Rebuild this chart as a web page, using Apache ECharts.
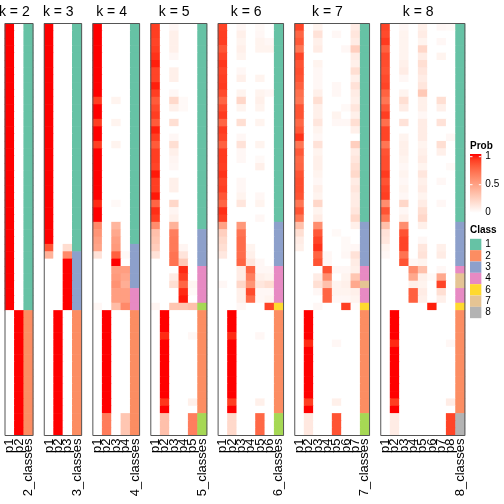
<!DOCTYPE html>
<html><head><meta charset="utf-8">
<script src="https://cdn.jsdelivr.net/npm/echarts@6/dist/echarts.min.js"></script>
<style>html,body{margin:0;padding:0;background:#fff}#c{width:504px;height:504px}</style>
</head><body><div id="c"></div>
<script>
// ---------------- data ----------------
const kValues = [2,3,4,5,6,7,8];
const nRows = 56;

const prob2 = [
[1,0],[1,0],[1,0],[1,0],[1,0],[1,0],[1,0],[1,0],[1,0],[1,0],
[1,0],[1,0],[1,0],[1,0],[1,0],[1,0],[1,0],[1,0],[1,0],[1,0],
[1,0],[1,0],[1,0],[1,0],[1,0],[1,0],[1,0],[1,0],[1,0],[1,0],
[1,0],[1,0],[1,0],[1,0],[1,0],[1,0],[1,0],[1,0],[1,0],
[0,1],[0,1],[0,1],[0,1],[0,1],[0,1],[0,1],[0,1],[0,1],[0,1],
[0,1],[0,1],[0,1],[0,1],[0,1],[0,1],[0,1]
];
const class2 = [1,1,1,1,1,1,1,1,1,1,1,1,1,1,1,1,1,1,1,1,1,1,1,1,1,1,1,1,1,1,1,1,1,1,1,1,1,1,1,
2,2,2,2,2,2,2,2,2,2,2,2,2,2,2,2,2];

const prob3 = [
[1,0,0],[1,0,0],[1,0,0],[1,0,0],[1,0,0],[1,0,0],[1,0,0],[1,0,0],[1,0,0],[1,0,0],
[1,0,0],[1,0,0],[1,0,0],[1,0,0],[1,0,0],[1,0,0],[1,0,0],[1,0,0],[1,0,0],[1,0,0],
[1,0,0],[1,0,0],[1,0,0],[1,0,0],[1,0,0],[1,0,0],[1,0,0],[1,0,0],[1,0,0],[1,0,0],
[0.82,0,0.18],[0.4,0,0.6],
[0,0,1],[0,0,1],[0,0,1],[0,0,1],[0,0,1],[0,0,1],[0,0,1],
[0,1,0],[0,1,0],[0,1,0],[0,1,0],[0,1,0],[0,1,0],[0,1,0],[0,1,0],[0,1,0],[0,1,0],
[0,1,0],[0,1,0],[0,1,0],[0,1,0],[0,1,0],[0,1,0],[0,1,0]
];
const class3 = [1,1,1,1,1,1,1,1,1,1,1,1,1,1,1,1,1,1,1,1,1,1,1,1,1,1,1,1,1,1,1,
3,3,3,3,3,3,3,3,
2,2,2,2,2,2,2,2,2,2,2,2,2,2,2,2,2];

const prob4 = [
[1,0,0,0],[1,0,0,0],[1,0,0,0],[1,0,0,0],[1,0,0,0],[1,0,0,0],[1,0,0,0],[1,0,0,0],[1,0,0,0],[1,0,0,0],
[0.9,0,0.06,0],[1,0,0,0],[1,0,0,0],[0.9,0,0.06,0],[1,0,0,0],[1,0,0,0],[0.9,0,0.06,0],
[1,0,0,0],[1,0,0,0],[1,0,0,0],[1,0,0,0],[1,0,0,0],[1,0,0,0],[1,0,0,0],
[0.95,0,0.03,0],[1,0,0,0],[1,0,0,0],
[0.6,0,0.38,0],[0.55,0,0.45,0],[0.5,0,0.5,0],[0.47,0,0.52,0],[0.15,0,0.78,0.03],
[0,0,1,0],[0,0,0.5,0.5],[0,0,0.52,0.46],[0,0,0.56,0.42],[0,0,0.5,0.5],[0,0,0.5,0.5],[0.04,0,0.35,0.6],
[0,1,0,0],[0,1,0,0],[0,1,0,0],[0,1,0,0],[0,1,0,0],[0,1,0,0],[0,1,0,0],
[0,1,0,0],[0,1,0,0],[0,1,0,0],[0,1,0,0],[0,1,0,0],[0,1,0,0],[0,1,0,0],
[0,0.66,0,0.3],[0,0.66,0,0.3],[0,0.66,0,0.3]
];
const class4 = [1,1,1,1,1,1,1,1,1,1,1,1,1,1,1,1,1,1,1,1,1,1,1,1,1,1,1,1,1,1,
3,3,3,3,3,3,4,4,4,
2,2,2,2,2,2,2,2,2,2,2,2,2,2,2,2,2];

const prob5 = [
[0.9,0,0.04,0,0],[0.9,0,0.08,0,0],[0.88,0,0.08,0,0],[0.9,0,0.08,0,0],[0.93,0,0.04,0,0],
[0.97,0,0,0,0],[0.88,0,0.08,0,0],[0.88,0,0.08,0,0],[0.97,0,0,0,0],[0.9,0,0.04,0,0],
[0.8,0,0.2,0.03,0],[0.86,0,0.08,0.03,0],[0.9,0,0,0,0],[0.8,0,0.17,0,0],[0.97,0,0,0,0],
[0.9,0,0.04,0,0],[0.8,0,0.17,0,0],[0.9,0,0.08,0,0],[0.9,0,0.05,0,0],[0.88,0,0.04,0,0],
[0.98,0,0,0,0],[0.9,0,0.08,0,0],[0.9,0,0.08,0,0],[0.98,0,0,0,0],[0.76,0,0.21,0,0],
[0.94,0,0.05,0,0],[0.9,0,0.08,0,0],[0.58,0,0.4,0,0],
[0.33,0,0.65,0,0],[0.3,0,0.67,0,0],[0.26,0,0.67,0.05,0],[0.15,0,0.7,0.14,0],[0,0,0.7,0.28,0],
[0,0,0,0.95,0],[0,0,0.1,0.9,0],[0,0,0.17,0.76,0.05],[0,0,0,0.95,0.03],[0,0,0,0.98,0],
[0.05,0,0.3,0.3,0.33],
[0,1,0,0,0],[0,1,0,0,0],[0,1,0,0,0],[0,0.95,0,0,0.04],[0,1,0,0,0],[0,1,0,0,0],[0,1,0,0,0],
[0,1,0,0,0],[0,1,0,0,0],[0,1,0,0,0],[0,1,0,0,0],[0,1,0,0,0],[0,0.92,0,0,0.08],[0,1,0,0,0],
[0,0.33,0,0,0.65],[0,0.33,0,0,0.65],[0,0.33,0,0,0.65]
];
const class5 = [1,1,1,1,1,1,1,1,1,1,1,1,1,1,1,1,1,1,1,1,1,1,1,1,1,1,1,1,
3,3,3,3,3,4,4,4,4,4,5,
2,2,2,2,2,2,2,2,2,2,2,2,2,2,5,5,5];

const prob6 = [
[0.88,0,0.04,0,0.03,0],[0.9,0,0.08,0,0.04,0],[0.9,0,0.06,0,0.06,0.04],[0.82,0,0.08,0,0.06,0.06],
[0.88,0,0.06,0,0,0],[0.92,0,0,0,0,0],[0.88,0,0.04,0,0,0],[0.9,0,0.08,0,0.06,0],
[0.91,0,0,0,0,0],[0.86,0,0.06,0,0.06,0.04],[0.76,0,0.21,0,0.08,0],[0.86,0,0.06,0,0.06,0],
[0.91,0,0,0,0,0],[0.76,0,0.17,0,0.06,0],[0.91,0,0,0,0,0],[0.88,0,0.04,0,0,0],
[0.78,0,0.15,0,0.06,0],[0.91,0,0.04,0,0,0],[0.91,0,0.04,0,0.03,0],[0.9,0,0,0,0.08,0],
[0.93,0,0,0,0,0],[0.88,0,0.04,0,0,0],[0.9,0,0.04,0,0,0],[0.82,0,0.06,0,0.04,0],
[0.76,0,0.13,0,0.06,0],[0.94,0,0,0,0,0],[0.9,0,0,0,0.04,0],
[0.48,0,0.53,0,0,0],[0.25,0,0.7,0,0,0],[0.2,0,0.73,0,0,0],[0.17,0,0.73,0.06,0,0],
[0.12,0,0.73,0.08,0,0],[0,0,0.76,0.13,0.04,0],
[0,0,0.1,0.76,0.04,0.04],[0,0,0.1,0.65,0.08,0.06],[0.04,0,0.21,0.55,0.13,0.17],
[0,0,0.08,0.86,0.04,0.04],[0,0,0.08,0.74,0.04,0.06],[0,0,0.04,0,0,0.88],
[0,1,0,0,0,0],[0,1,0,0,0,0],[0,1,0,0,0,0],[0,0.95,0,0,0.04,0],[0,1,0,0,0,0],[0,1,0,0,0,0],
[0,1,0,0,0,0],[0,1,0,0,0,0],[0,1,0,0,0,0],[0,1,0,0,0,0],[0,1,0,0,0,0],[0,1,0,0,0,0],
[0,0.9,0,0,0.08,0],[0,1,0,0,0,0],
[0,0.2,0,0,0.75,0],[0,0.2,0,0,0.75,0],[0,0.2,0,0,0.75,0]
];
const class6 = [1,1,1,1,1,1,1,1,1,1,1,1,1,1,1,1,1,1,1,1,1,1,1,1,1,1,1,
3,3,3,3,3,3,4,4,4,4,4,6,
2,2,2,2,2,2,2,2,2,2,2,2,2,2,5,5,5];

const prob7 = [
[0.88,0,0.06,0,0,0,0.1],[0.76,0,0.15,0,0.04,0,0.13],[0.81,0,0.08,0,0,0,0.1],[0.69,0,0.1,0,0,0.04,0.25],
[0.88,0,0,0,0,0,0.1],[0.83,0,0.06,0,0,0,0.08],[0.85,0,0.04,0,0,0,0.17],[0.83,0,0.04,0,0,0,0.08],
[0.78,0,0.04,0,0.04,0,0.15],[0.72,0,0.08,0,0.04,0,0.1],[0.69,0,0.17,0,0,0,0.08],[0.83,0,0.08,0,0,0.03,0.13],
[0.83,0,0.08,0,0.06,0,0.08],[0.75,0,0.13,0,0.04,0.04,0.17],[0.81,0,0.06,0,0,0,0.08],[0.93,0,0.04,0,0,0,0],
[0.69,0,0.15,0,0,0,0.25],[0.81,0,0.06,0,0,0,0.1],[0.75,0,0.08,0,0,0,0.13],[0.76,0,0.08,0,0,0,0.17],
[0.83,0,0.06,0,0,0,0.2],[0.85,0,0.04,0,0,0,0.1],[0.85,0,0.08,0,0,0,0.13],[0.83,0,0.06,0,0,0,0.1],
[0.69,0,0.21,0,0,0,0.1],[0.83,0,0.06,0,0,0,0.13],[0.69,0,0.1,0,0,0,0.2],
[0.33,0,0.58,0,0,0,0.08],[0.17,0,0.81,0,0.03,0,0],[0.1,0,0.88,0,0,0.03,0],[0.08,0,0.93,0,0,0.03,0.04],
[0,0,0.77,0.04,0,0.04,0.15],[0,0,0.83,0.04,0,0,0.1],
[0,0,0,0.83,0.04,0.04,0.08],[0,0,0.1,0.58,0,0.06,0.3],[0,0,0.17,0.33,0.06,0.08,0.45],
[0,0,0.04,0.76,0.06,0.06,0.08],[0,0,0,0.76,0.04,0.04,0.06],[0,0,0.04,0,0,0.9,0.02],
[0,1,0,0,0,0,0],[0,1,0,0,0,0,0],[0,1,0,0,0,0,0],[0,1,0,0,0,0,0],[0,0.95,0,0,0.04,0,0],
[0,1,0,0,0,0,0],[0,1,0,0,0,0,0],[0,1,0,0,0,0,0],[0,1,0,0,0,0,0],[0,1,0,0,0,0,0],[0,1,0,0,0,0,0],
[0,1,0,0,0,0,0],[0,0.9,0,0,0.08,0,0],[0,1,0,0,0,0,0],
[0,0.12,0,0,0.83,0,0],[0,0.12,0,0,0.83,0,0],[0,0.12,0,0,0.83,0,0]
];
const class7 = [1,1,1,1,1,1,1,1,1,1,1,1,1,1,1,1,1,1,1,1,1,1,1,1,1,1,1,
3,3,3,3,3,3,4,4,7,4,4,6,
2,2,2,2,2,2,2,2,2,2,2,2,2,2,5,5,5];

const prob8 = [
[0.88,0,0.04,0,0.08,0,0.04,0.03],[0.86,0,0.06,0,0.1,0,0,0],[0.91,0,0.06,0,0.06,0,0.04,0],
[0.78,0,0.06,0,0.21,0,0,0],[0.86,0,0.06,0,0.1,0,0.06,0],[0.85,0,0.08,0,0.17,0,0,0],
[0.83,0,0.1,0,0.13,0,0,0],[0.86,0,0.04,0,0.1,0,0,0],[0.88,0,0,0,0.13,0,0,0],
[0.77,0,0.06,0,0.28,0,0,0],[0.69,0,0.17,0,0.08,0,0.17,0],[0.81,0,0.1,0,0.08,0,0.08,0],
[0.9,0,0,0,0.04,0,0,0],[0.72,0,0.15,0,0.1,0,0.15,0],[0.88,0,0,0,0.1,0,0,0],
[0.88,0,0.06,0,0.1,0,0,0.04],[0.69,0,0.08,0,0.06,0,0.17,0],[0.83,0,0.08,0,0.08,0,0.08,0],
[0.85,0,0.06,0,0.1,0,0,0],[0.85,0,0.04,0,0.06,0,0,0.03],[0.91,0,0.06,0,0.13,0,0,0],
[0.83,0,0.04,0,0.08,0,0.04,0],[0.88,0,0.06,0,0.1,0,0,0],[0.9,0,0.04,0,0.06,0,0,0],
[0.58,0,0.21,0,0.1,0,0.04,0],[0.83,0,0.04,0,0.17,0,0,0],[0.69,0,0.08,0,0.21,0,0,0],
[0.33,0,0.58,0,0.08,0,0,0],[0.15,0,0.83,0,0,0,0,0],[0.13,0,0.88,0,0.04,0,0,0],
[0.06,0,0.88,0,0.13,0,0.08,0],[0.04,0,0.7,0,0.15,0,0.1,0],[0,0,0.83,0.04,0.06,0,0,0],
[0,0,0,0.58,0.33,0,0.04,0],[0,0,0,0.45,0.08,0.03,0.45,0],[0,0,0,0.08,0.06,0,0.88,0],
[0,0,0,0.78,0.1,0,0.17,0],[0,0,0,0.78,0.08,0,0.08,0],[0,0,0,0,0,0.97,0,0],
[0,1,0,0,0,0,0,0],[0,1,0,0,0,0,0,0],[0,1,0,0,0,0,0,0],[0,1,0,0,0,0,0,0],[0,0.95,0,0,0,0,0,0.04],
[0,1,0,0,0,0,0,0],[0,1,0,0,0,0,0,0],[0,1,0,0,0,0,0,0],[0,1,0,0,0,0,0,0],[0,1,0,0,0,0,0,0],
[0,1,0,0,0,0,0,0],[0,1,0,0,0,0,0,0],[0,0.9,0,0,0,0,0,0.1],[0,1,0,0,0,0,0,0],
[0,0.1,0,0,0,0,0,0.88],[0,0.1,0,0,0,0,0,0.88],[0,0.1,0,0,0,0,0,0.88]
];
const class8 = [1,1,1,1,1,1,1,1,1,1,1,1,1,1,1,1,1,1,1,1,1,1,1,1,1,1,1,
3,3,3,3,3,3,4,7,7,4,4,6,
2,2,2,2,2,2,2,2,2,2,2,2,2,2,8,8,8];

const probTicks = [1, 0.5, 0];
const probTickLabels = ['1', '0.5', '0'];
const legendClasses = ['1','2','3','4','6','7','8'];

// ---------------- styling ----------------
const CLASS_COLORS = {1:'#66C2A5',2:'#FC8D62',3:'#8DA0CB',4:'#E78AC3',5:'#A6D854',6:'#FFD92F',7:'#E5C494',8:'#B3B3B3'};
const FONT = '"Liberation Sans", Arial, Helvetica, sans-serif';

function lab2hex(L, a, b) {
  let fy = (L + 16) / 116, fx = fy + a / 500, fz = fy - b / 200;
  const f = t => t > 0.206893 ? t * t * t : (t - 16 / 116) / 7.787;
  const X = 0.95047 * f(fx), Y = 1.0 * f(fy), Z = 1.08883 * f(fz);
  let r = 3.2406 * X - 1.5372 * Y - 0.4986 * Z;
  let g = -0.9689 * X + 1.8758 * Y + 0.0415 * Z;
  let bl = 0.0557 * X - 0.2040 * Y + 1.0570 * Z;
  const gm = c => { c = Math.max(0, Math.min(1, c)); return c <= 0.0031308 ? 12.92 * c : 1.055 * Math.pow(c, 1 / 2.4) - 0.055; };
  const h = c => { const v = Math.round(gm(c) * 255); return (v < 16 ? '0' : '') + v.toString(16); };
  return '#' + h(r) + h(g) + h(bl);
}
const RED_LAB = [53.2408, 80.0925, 67.2032];
function probColor(v) {
  v = Math.max(0, Math.min(1, v));
  return lab2hex(100 + (RED_LAB[0] - 100) * v, RED_LAB[1] * v, RED_LAB[2] * v);
}

const probs = {2:prob2,3:prob3,4:prob4,5:prob5,6:prob6,7:prob7,8:prob8};
const classes = {2:class2,3:class3,4:class4,5:class5,6:class6,7:class7,8:class8};

const COLW = 9.35, GAP = 11.2, LEFT0 = 5, TOP = 23.5, HEIGHT = 412;

const grids = [], xAxes = [], yAxes = [], series = [], graphics = [];
let x0 = LEFT0;
const rowCats = [];
for (let i = 0; i < nRows; i++) rowCats.push(String(i));

function renderCell(params, api) {
  const c = api.value(0), r = api.value(1), v = api.value(2), t = api.value(3);
  const p = api.coord([c, r]);
  const s = api.size([1, 1]);
  return {
    type: 'rect',
    shape: { x: p[0] - s[0] / 2 - 0.3, y: p[1] - s[1] / 2 - 0.3, width: s[0] + 0.6, height: s[1] + 0.6 },
    style: { fill: t ? CLASS_COLORS[v] : probColor(v) }
  };
}

kValues.forEach((k, gi) => {
  const w = (k + 1) * COLW;
  grids.push({ left: x0, top: TOP, width: w, height: HEIGHT, containLabel: false });
  const cats = [];
  for (let j = 1; j <= k; j++) cats.push('p' + j);
  cats.push(k + '_classes');
  xAxes.push({
    type: 'category', gridIndex: gi, data: cats, position: 'bottom',
    axisLine: { show: false }, axisTick: { show: false }, splitLine: { show: false },
    axisLabel: { rotate: 90, interval: 0, fontSize: 13, color: '#000', margin: 3, fontFamily: FONT }
  });
  yAxes.push({ type: 'category', gridIndex: gi, data: rowCats, inverse: true, show: false });
  const data = [];
  const P = probs[k], C = classes[k];
  for (let r = 0; r < nRows; r++) {
    for (let j = 0; j < k; j++) data.push([j, r, P[r][j], 0]);
    data.push([k, r, C[r], 1]);
  }
  series.push({ type: 'custom', xAxisIndex: gi, yAxisIndex: gi, renderItem: renderCell, data: data, silent: true, animation: false });
  graphics.push({ type: 'rect', z: 100, shape: { x: x0, y: TOP, width: w, height: HEIGHT },
    style: { fill: 'none', stroke: '#555', lineWidth: 1 } });
  graphics.push({ type: 'text', z: 100, x: x0 + k * COLW / 2, y: 12,
    style: { text: 'k = ' + k, font: '14px ' + FONT, fill: '#000', textAlign: 'center', textVerticalAlign: 'middle' } });
  x0 += w + GAP;
});

// ---------------- legends ----------------
const LX = 470, CELL = 11.34;
graphics.push({ type: 'text', x: LX, y: 146, style: { text: 'Prob', font: 'bold 10px ' + FONT, fill: '#000', textVerticalAlign: 'middle' } });
const BAR_TOP = 154, BAR_H = 59, BAR_W = CELL;
const LAB_TOP = 156.7, LAB_SPAN = 56;
const stops = [];
for (let i = 0; i <= 10; i++) stops.push({ offset: i / 10, color: probColor(1 - i / 10) });
graphics.push({ type: 'rect', x: LX, y: BAR_TOP, shape: { width: BAR_W, height: BAR_H },
  style: { fill: { type: 'linear', x: 0, y: 0, x2: 0, y2: 1, colorStops: stops } } });
probTicks.forEach((t, i) => {
  const yy = LAB_TOP + (1 - t) * LAB_SPAN;
  graphics.push({ type: 'line', z: 10, shape: { x1: LX, y1: yy, x2: LX + 2.5, y2: yy }, style: { stroke: '#fff', lineWidth: 1 } });
  graphics.push({ type: 'line', z: 10, shape: { x1: LX + BAR_W - 2.5, y1: yy, x2: LX + BAR_W, y2: yy }, style: { stroke: '#fff', lineWidth: 1 } });
  graphics.push({ type: 'text', x: LX + BAR_W + 4, y: yy, style: { text: probTickLabels[i], font: '10px ' + FONT, fill: '#000', textVerticalAlign: 'middle' } });
});
graphics.push({ type: 'text', x: LX, y: 230, style: { text: 'Class', font: 'bold 10px ' + FONT, fill: '#000', textVerticalAlign: 'middle' } });
legendClasses.forEach((c, i) => {
  const yy = 238.8 + i * CELL;
  graphics.push({ type: 'rect', x: LX, y: yy, shape: { width: CELL, height: CELL }, style: { fill: CLASS_COLORS[c] } });
  graphics.push({ type: 'text', x: LX + CELL + 4, y: yy + CELL / 2, style: { text: c, font: '10px ' + FONT, fill: '#000', textVerticalAlign: 'middle' } });
});

const chart = echarts.init(document.getElementById('c'), null, { renderer: 'canvas' });
chart.setOption({
  animation: false,
  backgroundColor: '#fff',
  grid: grids, xAxis: xAxes, yAxis: yAxes, series: series,
  graphic: graphics
});
</script>
</body></html>
